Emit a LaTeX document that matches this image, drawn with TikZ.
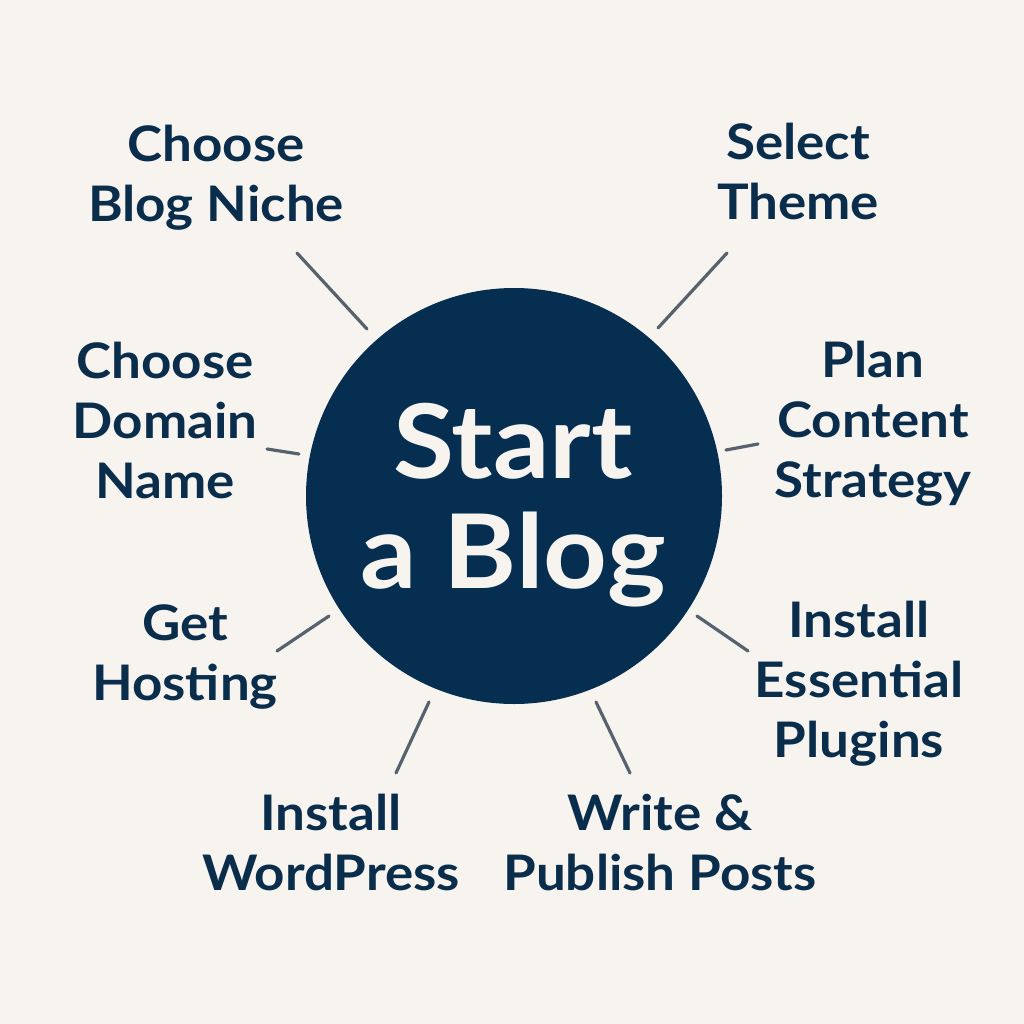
\documentclass[tikz,border=0pt]{standalone}
\usepackage{fontspec}
\setmainfont{Lato}[FakeStretch=1.08]
\definecolor{bg}{HTML}{F7F4EF}
\definecolor{navy}{HTML}{052E50}
\definecolor{ink}{HTML}{0A2D4C}
\definecolor{spoke}{HTML}{56636F}
\tikzset{
  lbl/.style={anchor=base, inner sep=0pt, text=ink, font=\fontsize{49}{60}\selectfont\bfseries},
  spokeline/.style={draw=spoke, line width=3.2pt, line cap=round},
}
\newcommand{\lines}[1]{\begin{tabular}[b]{@{}c@{}}#1\end{tabular}}
\begin{document}
\begin{tikzpicture}[x=1pt,y=-1pt]
\fill[bg] (0,0) rectangle (1024,1024);
\useasboundingbox (0,0) rectangle (1024,1024);
\node[circle, fill=navy, minimum size=416pt, inner sep=0pt] (hub) at (514,496) {};
\node[anchor=base, inner sep=0pt, text=bg, font=\fontsize{103}{110}\selectfont\bfseries] (title) at (513,588) {\lines{Start\\a Blog}};
\node[lbl] (niche) at (216,222) {\lines{Choose\\Blog Niche}};
\node[lbl] (theme) at (798,220) {\lines{Select\\Theme}};
\node[lbl] (domain) at (165,498) {\lines{Choose\\Domain\\Name}};
\node[lbl] (plan) at (873,497) {\lines{Plan\\Content\\Strategy}};
\node[lbl] (hosting) at (185,700) {\lines{Get\\Hosting}};
\node[lbl] (plugins) at (859,757) {\lines{Install\\Essential\\Plugins}};
\node[lbl] (wp) at (331,890) {\lines{Install\\WordPress}};
\node[lbl] (write) at (660,890) {\lines{Write \&\\Publish Posts}};
\coordinate (n1) at (297,253); \coordinate (h1) at (367,329);
\coordinate (n2) at (727,253); \coordinate (h2) at (658,328);
\coordinate (n3) at (267,449); \coordinate (h3) at (299,454);
\coordinate (n4) at (758,444); \coordinate (h4) at (726,450);
\coordinate (n5) at (277,651); \coordinate (h5) at (329,616);
\coordinate (n6) at (748,651); \coordinate (h6) at (697,616);
\coordinate (n7) at (396,773); \coordinate (h7) at (429,702);
\coordinate (n8) at (630,773); \coordinate (h8) at (596,702);
\foreach \i in {1,...,8} \draw[spokeline] (n\i) -- (h\i);
\end{tikzpicture}
\end{document}
